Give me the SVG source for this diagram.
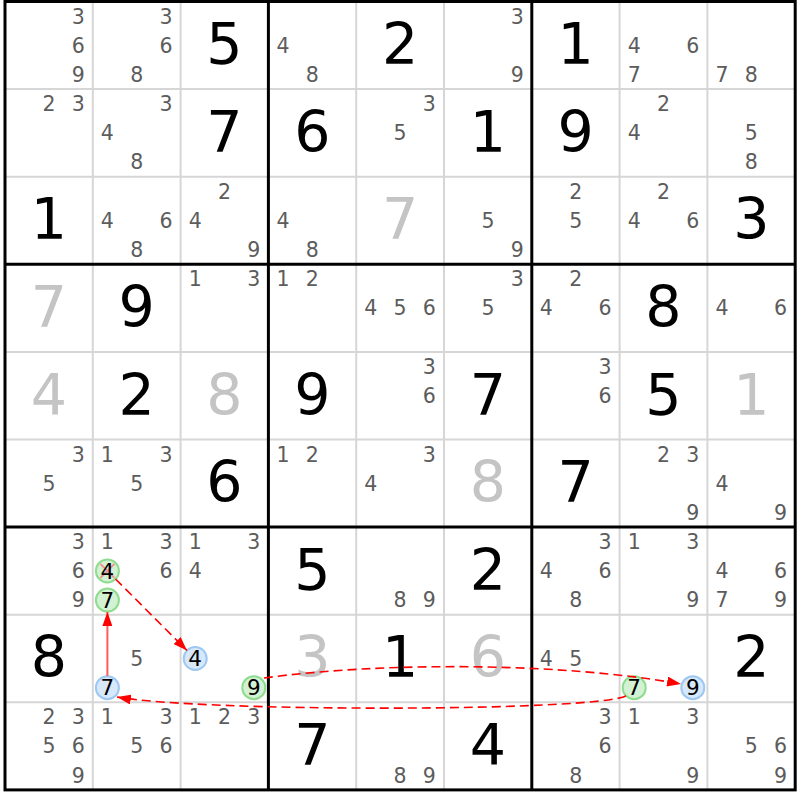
<svg xmlns="http://www.w3.org/2000/svg" width="800" height="800" viewBox="0 0 800 800">
<style>
text{font-family:"DejaVu Sans","Liberation Sans",sans-serif;text-anchor:middle}
.c{font-size:20.5px;fill:#5c5c5c}
.g{font-size:57px;fill:#000}
.s{font-size:57px;fill:#c4c4c4}
.k{font-size:21.5px;fill:#000}
.thin{stroke:#d6d6d6;stroke-width:2}
.thick{stroke:#000;stroke-width:3}
.cg{fill:#d3f2d3;stroke:#8fdc8f;stroke-width:2}
.cb{fill:#d6e8fa;stroke:#9cc8f2;stroke-width:2}
.x{stroke:#f29090;stroke-width:2}
.dash{fill:none;stroke:#f00;stroke-width:1.6;stroke-dasharray:9 5}
.solid{fill:none;stroke:#ff5a5a;stroke-width:2}
</style>
<defs>
<marker id="ah" markerUnits="userSpaceOnUse" markerWidth="14" markerHeight="10" viewBox="0 0 14 10" refX="14" refY="5" orient="auto"><path d="M0,0 L14,5 L0,10 z" fill="#f00"/></marker>
</defs>
<rect width="800" height="800" fill="#fff"/>
<g id="grid">
<g class="thin">
<line x1="92.8" y1="1.5" x2="92.8" y2="789.9"/><line x1="180.6" y1="1.5" x2="180.6" y2="789.9"/>
<line x1="356.2" y1="1.5" x2="356.2" y2="789.9"/><line x1="444" y1="1.5" x2="444" y2="789.9"/>
<line x1="619.6" y1="1.5" x2="619.6" y2="789.9"/><line x1="707.4" y1="1.5" x2="707.4" y2="789.9"/>
<line x1="5" y1="89.1" x2="795.2" y2="89.1"/><line x1="5" y1="176.7" x2="795.2" y2="176.7"/>
<line x1="5" y1="351.9" x2="795.2" y2="351.9"/><line x1="5" y1="439.5" x2="795.2" y2="439.5"/>
<line x1="5" y1="614.7" x2="795.2" y2="614.7"/><line x1="5" y1="702.3" x2="795.2" y2="702.3"/>
</g>
<g class="thick">
<line x1="268.4" y1="1.5" x2="268.4" y2="789.9"/><line x1="531.8" y1="1.5" x2="531.8" y2="789.9"/>
<line x1="5" y1="264.3" x2="795.2" y2="264.3"/><line x1="5" y1="527.1" x2="795.2" y2="527.1"/>
<rect x="5" y="1.5" width="790.2" height="788.4" fill="none"/>
</g>
</g>
<!-- Row 1 -->
<g id="r1c1" transform="translate(5,1.5)"><text class="c" x="73.2" y="22">3</text><text class="c" x="73.2" y="51.2">6</text><text class="c" x="73.2" y="80.4">9</text></g>
<g id="r1c2" transform="translate(92.8,1.5)"><text class="c" x="73.2" y="22">3</text><text class="c" x="73.2" y="51.2">6</text><text class="c" x="43.9" y="80.4">8</text></g>
<g id="r1c3" transform="translate(180.6,1.5)"><text class="g" x="43.9" y="62.8">5</text></g>
<g id="r1c4" transform="translate(268.4,1.5)"><text class="c" x="14.6" y="51.2">4</text><text class="c" x="43.9" y="80.4">8</text></g>
<g id="r1c5" transform="translate(356.2,1.5)"><text class="g" x="43.9" y="62.8">2</text></g>
<g id="r1c6" transform="translate(444,1.5)"><text class="c" x="73.2" y="22">3</text><text class="c" x="73.2" y="80.4">9</text></g>
<g id="r1c7" transform="translate(531.8,1.5)"><text class="g" x="43.9" y="62.8">1</text></g>
<g id="r1c8" transform="translate(619.6,1.5)"><text class="c" x="14.6" y="51.2">4</text><text class="c" x="73.2" y="51.2">6</text><text class="c" x="14.6" y="80.4">7</text></g>
<g id="r1c9" transform="translate(707.4,1.5)"><text class="c" x="14.6" y="80.4">7</text><text class="c" x="43.9" y="80.4">8</text></g>
<!-- Row 2 -->
<g id="r2c1" transform="translate(5,89.1)"><text class="c" x="43.9" y="22">2</text><text class="c" x="73.2" y="22">3</text></g>
<g id="r2c2" transform="translate(92.8,89.1)"><text class="c" x="73.2" y="22">3</text><text class="c" x="14.6" y="51.2">4</text><text class="c" x="43.9" y="80.4">8</text></g>
<g id="r2c3" transform="translate(180.6,89.1)"><text class="g" x="43.9" y="62.8">7</text></g>
<g id="r2c4" transform="translate(268.4,89.1)"><text class="g" x="43.9" y="62.8">6</text></g>
<g id="r2c5" transform="translate(356.2,89.1)"><text class="c" x="73.2" y="22">3</text><text class="c" x="43.9" y="51.2">5</text></g>
<g id="r2c6" transform="translate(444,89.1)"><text class="g" x="43.9" y="62.8">1</text></g>
<g id="r2c7" transform="translate(531.8,89.1)"><text class="g" x="43.9" y="62.8">9</text></g>
<g id="r2c8" transform="translate(619.6,89.1)"><text class="c" x="43.9" y="22">2</text><text class="c" x="14.6" y="51.2">4</text></g>
<g id="r2c9" transform="translate(707.4,89.1)"><text class="c" x="43.9" y="51.2">5</text><text class="c" x="43.9" y="80.4">8</text></g>
<!-- Row 3 -->
<g id="r3c1" transform="translate(5,176.7)"><text class="g" x="43.9" y="62.8">1</text></g>
<g id="r3c2" transform="translate(92.8,176.7)"><text class="c" x="14.6" y="51.2">4</text><text class="c" x="73.2" y="51.2">6</text><text class="c" x="43.9" y="80.4">8</text></g>
<g id="r3c3" transform="translate(180.6,176.7)"><text class="c" x="43.9" y="22">2</text><text class="c" x="14.6" y="51.2">4</text><text class="c" x="73.2" y="80.4">9</text></g>
<g id="r3c4" transform="translate(268.4,176.7)"><text class="c" x="14.6" y="51.2">4</text><text class="c" x="43.9" y="80.4">8</text></g>
<g id="r3c5" transform="translate(356.2,176.7)"><text class="s" x="43.9" y="62.8">7</text></g>
<g id="r3c6" transform="translate(444,176.7)"><text class="c" x="43.9" y="51.2">5</text><text class="c" x="73.2" y="80.4">9</text></g>
<g id="r3c7" transform="translate(531.8,176.7)"><text class="c" x="43.9" y="22">2</text><text class="c" x="43.9" y="51.2">5</text></g>
<g id="r3c8" transform="translate(619.6,176.7)"><text class="c" x="43.9" y="22">2</text><text class="c" x="14.6" y="51.2">4</text><text class="c" x="73.2" y="51.2">6</text></g>
<g id="r3c9" transform="translate(707.4,176.7)"><text class="g" x="43.9" y="62.8">3</text></g>
<!-- Row 4 -->
<g id="r4c1" transform="translate(5,264.3)"><text class="s" x="43.9" y="62.8">7</text></g>
<g id="r4c2" transform="translate(92.8,264.3)"><text class="g" x="43.9" y="62.8">9</text></g>
<g id="r4c3" transform="translate(180.6,264.3)"><text class="c" x="14.6" y="22">1</text><text class="c" x="73.2" y="22">3</text></g>
<g id="r4c4" transform="translate(268.4,264.3)"><text class="c" x="14.6" y="22">1</text><text class="c" x="43.9" y="22">2</text></g>
<g id="r4c5" transform="translate(356.2,264.3)"><text class="c" x="14.6" y="51.2">4</text><text class="c" x="43.9" y="51.2">5</text><text class="c" x="73.2" y="51.2">6</text></g>
<g id="r4c6" transform="translate(444,264.3)"><text class="c" x="73.2" y="22">3</text><text class="c" x="43.9" y="51.2">5</text></g>
<g id="r4c7" transform="translate(531.8,264.3)"><text class="c" x="43.9" y="22">2</text><text class="c" x="14.6" y="51.2">4</text><text class="c" x="73.2" y="51.2">6</text></g>
<g id="r4c8" transform="translate(619.6,264.3)"><text class="g" x="43.9" y="62.8">8</text></g>
<g id="r4c9" transform="translate(707.4,264.3)"><text class="c" x="14.6" y="51.2">4</text><text class="c" x="73.2" y="51.2">6</text></g>
<!-- Row 5 -->
<g id="r5c1" transform="translate(5,351.9)"><text class="s" x="43.9" y="62.8">4</text></g>
<g id="r5c2" transform="translate(92.8,351.9)"><text class="g" x="43.9" y="62.8">2</text></g>
<g id="r5c3" transform="translate(180.6,351.9)"><text class="s" x="43.9" y="62.8">8</text></g>
<g id="r5c4" transform="translate(268.4,351.9)"><text class="g" x="43.9" y="62.8">9</text></g>
<g id="r5c5" transform="translate(356.2,351.9)"><text class="c" x="73.2" y="22">3</text><text class="c" x="73.2" y="51.2">6</text></g>
<g id="r5c6" transform="translate(444,351.9)"><text class="g" x="43.9" y="62.8">7</text></g>
<g id="r5c7" transform="translate(531.8,351.9)"><text class="c" x="73.2" y="22">3</text><text class="c" x="73.2" y="51.2">6</text></g>
<g id="r5c8" transform="translate(619.6,351.9)"><text class="g" x="43.9" y="62.8">5</text></g>
<g id="r5c9" transform="translate(707.4,351.9)"><text class="s" x="43.9" y="62.8">1</text></g>
<!-- Row 6 -->
<g id="r6c1" transform="translate(5,439.5)"><text class="c" x="73.2" y="22">3</text><text class="c" x="43.9" y="51.2">5</text></g>
<g id="r6c2" transform="translate(92.8,439.5)"><text class="c" x="14.6" y="22">1</text><text class="c" x="73.2" y="22">3</text><text class="c" x="43.9" y="51.2">5</text></g>
<g id="r6c3" transform="translate(180.6,439.5)"><text class="g" x="43.9" y="62.8">6</text></g>
<g id="r6c4" transform="translate(268.4,439.5)"><text class="c" x="14.6" y="22">1</text><text class="c" x="43.9" y="22">2</text></g>
<g id="r6c5" transform="translate(356.2,439.5)"><text class="c" x="73.2" y="22">3</text><text class="c" x="14.6" y="51.2">4</text></g>
<g id="r6c6" transform="translate(444,439.5)"><text class="s" x="43.9" y="62.8">8</text></g>
<g id="r6c7" transform="translate(531.8,439.5)"><text class="g" x="43.9" y="62.8">7</text></g>
<g id="r6c8" transform="translate(619.6,439.5)"><text class="c" x="43.9" y="22">2</text><text class="c" x="73.2" y="22">3</text><text class="c" x="73.2" y="80.4">9</text></g>
<g id="r6c9" transform="translate(707.4,439.5)"><text class="c" x="14.6" y="51.2">4</text><text class="c" x="73.2" y="80.4">9</text></g>
<!-- Row 7 -->
<g id="r7c1" transform="translate(5,527.1)"><text class="c" x="73.2" y="22">3</text><text class="c" x="73.2" y="51.2">6</text><text class="c" x="73.2" y="80.4">9</text></g>
<g id="r7c2" transform="translate(92.8,527.1)"><text class="c" x="14.6" y="22">1</text><text class="c" x="73.2" y="22">3</text><circle class="cg" cx="14.6" cy="43.8" r="11.5"/><line class="x" x1="7.6" y1="36.8" x2="21.6" y2="50.8"/><line class="x" x1="21.6" y1="36.8" x2="7.6" y2="50.8"/><text class="k" x="14.6" y="51.6">4</text><text class="c" x="73.2" y="51.2">6</text><circle class="cg" cx="14.6" cy="73" r="11.5"/><text class="k" x="14.6" y="80.8">7</text></g>
<g id="r7c3" transform="translate(180.6,527.1)"><text class="c" x="14.6" y="22">1</text><text class="c" x="73.2" y="22">3</text><text class="c" x="14.6" y="51.2">4</text></g>
<g id="r7c4" transform="translate(268.4,527.1)"><text class="g" x="43.9" y="62.8">5</text></g>
<g id="r7c5" transform="translate(356.2,527.1)"><text class="c" x="43.9" y="80.4">8</text><text class="c" x="73.2" y="80.4">9</text></g>
<g id="r7c6" transform="translate(444,527.1)"><text class="g" x="43.9" y="62.8">2</text></g>
<g id="r7c7" transform="translate(531.8,527.1)"><text class="c" x="73.2" y="22">3</text><text class="c" x="14.6" y="51.2">4</text><text class="c" x="73.2" y="51.2">6</text><text class="c" x="43.9" y="80.4">8</text></g>
<g id="r7c8" transform="translate(619.6,527.1)"><text class="c" x="14.6" y="22">1</text><text class="c" x="73.2" y="22">3</text><text class="c" x="73.2" y="80.4">9</text></g>
<g id="r7c9" transform="translate(707.4,527.1)"><text class="c" x="14.6" y="51.2">4</text><text class="c" x="73.2" y="51.2">6</text><text class="c" x="14.6" y="80.4">7</text><text class="c" x="73.2" y="80.4">9</text></g>
<!-- Row 8 -->
<g id="r8c1" transform="translate(5,614.7)"><text class="g" x="43.9" y="62.8">8</text></g>
<g id="r8c2" transform="translate(92.8,614.7)"><text class="c" x="43.9" y="51.2">5</text><circle class="cb" cx="14.6" cy="73" r="11.5"/><text class="k" x="14.6" y="80.8">7</text></g>
<g id="r8c3" transform="translate(180.6,614.7)"><circle class="cb" cx="14.6" cy="43.8" r="11.5"/><text class="k" x="14.6" y="51.6">4</text><circle class="cg" cx="73.2" cy="73" r="11.5"/><text class="k" x="73.2" y="80.8">9</text></g>
<g id="r8c4" transform="translate(268.4,614.7)"><text class="s" x="43.9" y="62.8">3</text></g>
<g id="r8c5" transform="translate(356.2,614.7)"><text class="g" x="43.9" y="62.8">1</text></g>
<g id="r8c6" transform="translate(444,614.7)"><text class="s" x="43.9" y="62.8">6</text></g>
<g id="r8c7" transform="translate(531.8,614.7)"><text class="c" x="14.6" y="51.2">4</text><text class="c" x="43.9" y="51.2">5</text></g>
<g id="r8c8" transform="translate(619.6,614.7)"><circle class="cg" cx="14.6" cy="73" r="11.5"/><text class="k" x="14.6" y="80.8">7</text><circle class="cb" cx="73.2" cy="73" r="11.5"/><text class="k" x="73.2" y="80.8">9</text></g>
<g id="r8c9" transform="translate(707.4,614.7)"><text class="g" x="43.9" y="62.8">2</text></g>
<!-- Row 9 -->
<g id="r9c1" transform="translate(5,702.3)"><text class="c" x="43.9" y="22">2</text><text class="c" x="73.2" y="22">3</text><text class="c" x="43.9" y="51.2">5</text><text class="c" x="73.2" y="51.2">6</text><text class="c" x="73.2" y="80.4">9</text></g>
<g id="r9c2" transform="translate(92.8,702.3)"><text class="c" x="14.6" y="22">1</text><text class="c" x="73.2" y="22">3</text><text class="c" x="43.9" y="51.2">5</text><text class="c" x="73.2" y="51.2">6</text></g>
<g id="r9c3" transform="translate(180.6,702.3)"><text class="c" x="14.6" y="22">1</text><text class="c" x="43.9" y="22">2</text><text class="c" x="73.2" y="22">3</text></g>
<g id="r9c4" transform="translate(268.4,702.3)"><text class="g" x="43.9" y="62.8">7</text></g>
<g id="r9c5" transform="translate(356.2,702.3)"><text class="c" x="43.9" y="80.4">8</text><text class="c" x="73.2" y="80.4">9</text></g>
<g id="r9c6" transform="translate(444,702.3)"><text class="g" x="43.9" y="62.8">4</text></g>
<g id="r9c7" transform="translate(531.8,702.3)"><text class="c" x="73.2" y="22">3</text><text class="c" x="73.2" y="51.2">6</text><text class="c" x="43.9" y="80.4">8</text></g>
<g id="r9c8" transform="translate(619.6,702.3)"><text class="c" x="14.6" y="22">1</text><text class="c" x="73.2" y="22">3</text><text class="c" x="73.2" y="80.4">9</text></g>
<g id="r9c9" transform="translate(707.4,702.3)"><text class="c" x="43.9" y="51.2">5</text><text class="c" x="73.2" y="51.2">6</text><text class="c" x="73.2" y="80.4">9</text></g>
<g id="connectors">
<path class="dash" d="M115.5,579 L187,650.5" marker-end="url(#ah)"/>
<path class="solid" d="M107.4,676 L107.4,612" marker-end="url(#ah)"/>
<path class="dash" d="M264,678 C380,662 560,662 681,684" marker-end="url(#ah)"/>
<path class="dash" d="M626,696 C590,712 200,712 117,697" marker-end="url(#ah)"/>
</g>
</svg>
